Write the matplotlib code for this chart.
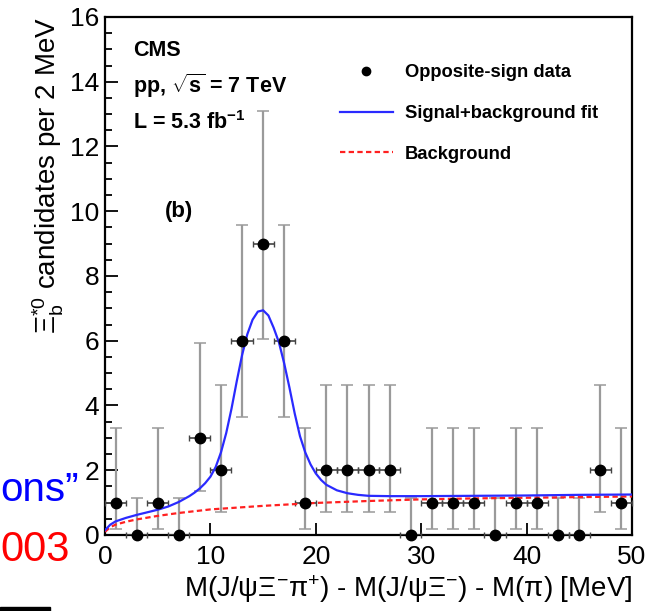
import matplotlib
matplotlib.use("Agg")
import matplotlib.pyplot as plt
from matplotlib.lines import Line2D
from matplotlib.patches import Rectangle
from matplotlib.ticker import MultipleLocator

plt.rcParams['font.family'] = ['Liberation Sans', 'DejaVu Sans']
plt.rcParams['mathtext.fontset'] = 'custom'
plt.rcParams['mathtext.rm'] = 'Liberation Sans'
plt.rcParams['mathtext.it'] = 'Liberation Sans:italic'
plt.rcParams['mathtext.bf'] = 'Liberation Sans:bold'

# data: 2 MeV bins
bin_centers = [1, 3, 5, 7, 9, 11, 13, 15, 17, 19, 21, 23, 25, 27, 29,
               31, 33, 35, 37, 39, 41, 43, 45, 47, 49]
counts = [1, 0, 1, 0, 3, 2, 6, 9, 6, 1, 2, 2, 2, 2, 0,
          1, 1, 1, 0, 1, 1, 0, 0, 2, 1]
bin_half = [1] * len(bin_centers)

# poisson error bars (down / up) per count value
err_table = {0: (0.0, 1.15), 1: (0.83, 2.30), 2: (1.29, 2.64),
             3: (1.63, 2.92), 6: (2.37, 3.58), 9: (2.94, 4.11)}
err_lo = [err_table[n][0] for n in counts]
err_hi = [err_table[n][1] for n in counts]

# signal + background fit curve
fit_x = [0, 0.5, 1, 2, 3, 4, 5, 6, 7, 8, 8.5, 9, 9.5, 10, 10.5, 11, 11.5,
         12, 12.5, 13, 13.5, 14, 14.5, 15, 15.5, 16, 16.5, 17, 17.5, 18,
         18.5, 19, 19.5, 20, 20.5, 21, 22, 23, 24, 25, 27, 30, 35, 40, 45, 50]
fit_y = [0.15, 0.32, 0.42, 0.53, 0.62, 0.70, 0.78, 0.88, 1.02, 1.20, 1.31,
         1.44, 1.60, 1.80, 2.10, 2.55, 3.15, 3.90, 4.75, 5.55, 6.20, 6.65,
         6.90, 6.94, 6.78, 6.40, 5.95, 5.30, 4.55, 3.75, 3.05, 2.55, 2.18,
         1.90, 1.70, 1.55, 1.38, 1.29, 1.24, 1.21, 1.20, 1.20, 1.21, 1.22,
         1.24, 1.25]

# background only
bg_x = [0, 0.5, 1, 2, 3, 5, 7, 10, 15, 20, 25, 30, 35, 40, 45, 50]
bg_y = [0.10, 0.24, 0.32, 0.41, 0.48, 0.59, 0.68, 0.79, 0.90, 0.99, 1.05,
        1.10, 1.13, 1.15, 1.17, 1.19]

fig = plt.figure(figsize=(6.58, 6.11), dpi=100)
ax = fig.add_axes([0.1596, 0.1244, 0.8009, 0.8478])

# vertical (gray) error bars
_, caps, bars = ax.errorbar(bin_centers, counts, yerr=[err_lo, err_hi],
                            fmt='none', ecolor='#9a9a9a', elinewidth=1.6,
                            capsize=4, capthick=1.1, zorder=2)
for c in caps:
    c.set_color('#555555')
# horizontal (dark) error bars
_, caps2, _ = ax.errorbar(bin_centers, counts, xerr=bin_half, fmt='none',
                          ecolor='#444444', elinewidth=1.2, capsize=2.5,
                          capthick=1.0, zorder=3)
for c in caps2:
    c.set_clip_on(False)

ax.plot(bg_x, bg_y, color='#ff2020', lw=1.6, ls=(0, (2.4, 1.5)), zorder=4)
ax.plot(fit_x, fit_y, color='#2a2aff', lw=1.6, zorder=5)
ax.plot(bin_centers, counts, 'o', color='black', ms=7.5, zorder=6,
        clip_on=False)

ax.set_xlim(0, 50)
ax.set_ylim(0, 16)
ax.xaxis.set_major_locator(MultipleLocator(10))
ax.yaxis.set_major_locator(MultipleLocator(2))
ax.yaxis.set_minor_locator(MultipleLocator(0.5))
ax.tick_params(which='both', direction='in', top=False, right=False,
               width=1.3, labelsize=19)
ax.tick_params(which='major', length=9)
ax.tick_params(which='minor', length=5)
ax.tick_params(axis='x', pad=7)
ax.tick_params(axis='y', pad=4)
for s in ax.spines.values():
    s.set_linewidth(1.6)

ax.set_xlabel(r"M(J/$\mathregular{\psi\Xi^{-}\pi^{+}}$) - "
              r"M(J/$\mathregular{\psi\Xi^{-}}$) - M($\mathregular{\pi}$) [MeV]",
              fontsize=20, loc='right', labelpad=3)
ax.set_ylabel(r"$\mathregular{\Xi_b^{*0}}$ candidates per 2 MeV",
              fontsize=20, loc='top', labelpad=3)

ax.text(0.054, 0.935, "CMS", transform=ax.transAxes, fontsize=15.5,
        fontweight='bold', va='center')
ax.text(0.054, 0.868, r"pp, $\mathbf{\sqrt{s}}$ = 7 TeV",
        transform=ax.transAxes, fontsize=15.5, fontweight='bold', va='center')
ax.text(0.054, 0.797, r"L = 5.3 fb$^{\mathbf{-1}}$", transform=ax.transAxes,
        fontsize=15.5, fontweight='bold', va='center')
ax.text(0.113, 0.625, "(b)", transform=ax.transAxes, fontsize=16,
        fontweight='bold', va='center')

handles = [
    Line2D([], [], marker='o', color='black', ls='none', ms=6),
    Line2D([], [], color='#2a2aff', lw=1.6),
    Line2D([], [], color='#ff2020', lw=1.6, ls=(0, (2.4, 1.5))),
]
labels = ["Opposite-sign data", "Signal+background fit", "Background"]
prop = {'weight': 'bold', 'size': 13.2}
fig.legend(handles, labels, loc='upper left', bbox_to_anchor=(0.516, 0.895),
           bbox_transform=fig.transFigure, frameon=False, prop=prop,
           handlelength=2.9, handletextpad=0.65, labelspacing=1.3,
           borderpad=0, borderaxespad=0)

# fragments of the surrounding slide
fig.text(0.5 / 658, 1 - 501 / 611, "ons\u201d", color='#0000ff', fontsize=29,
         ha='left', va='baseline')
fig.text(0.5 / 658, 1 - 561 / 611, "003", color='#ff0000', fontsize=30,
         ha='left', va='baseline')
fig.add_artist(Rectangle((0, 0), 50 / 658, 4 / 611, transform=fig.transFigure,
                         color='black', clip_on=False))

fig.savefig("out.png", dpi=100)
